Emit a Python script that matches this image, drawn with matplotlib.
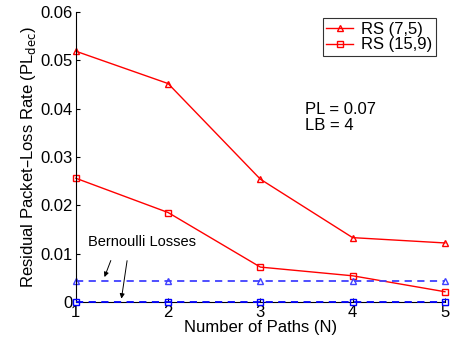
import matplotlib
matplotlib.use('Agg')
import matplotlib.pyplot as plt

plt.rcParams['font.family'] = ['Liberation Sans', 'DejaVu Sans']

paths = [1, 2, 3, 4, 5]
rs75 = [0.0519, 0.0452, 0.0254, 0.0133, 0.0122]
rs159 = [0.0256, 0.0185, 0.0072, 0.0054, 0.0021]
bern75 = [0.0043, 0.0043, 0.0043, 0.0043, 0.0043]
bern159 = [0.0, 0.0, 0.0, 0.0, 0.0]


def main():
    fig = plt.figure(figsize=(4.54, 3.45), dpi=100)
    ax = fig.add_axes([0.167, 0.125, 0.813, 0.84])

    ax.plot(paths, rs75, color='red', marker='^', markersize=5, mfc='none', lw=1, label='RS (7,5)', clip_on=False)
    ax.plot(paths, rs159, color='red', marker='s', markersize=4, mfc='none', lw=1, label='RS (15,9)', clip_on=False)
    ax.plot(paths, bern75, color='#4040ff', ls='--', dashes=(4, 3), marker='^', markersize=5, mfc='none', lw=1.3,
            clip_on=False)
    ax.plot(paths, bern159, color='blue', ls='--', dashes=(4, 3), marker='s', markersize=4, mfc='none', lw=1.3,
            clip_on=False, zorder=3)

    ax.set_xlim(1, 5)
    ax.set_ylim(0, 0.06)
    ax.set_xticks([1, 2, 3, 4, 5])
    ax.set_yticks([0, 0.01, 0.02, 0.03, 0.04, 0.05, 0.06])
    ax.set_yticklabels(['0', '0.01', '0.02', '0.03', '0.04', '0.05', '0.06'])
    ax.tick_params(labelsize=12, direction='in', length=3, pad=2)
    ax.spines['top'].set_visible(False)
    ax.spines['right'].set_visible(False)

    ax.set_xlabel('Number of Paths (N)', fontsize=12, labelpad=0)
    ax.set_ylabel('Residual Packet\u2013Loss Rate (PL$_{\\mathrm{dec}}$)', fontsize=12, labelpad=2)

    leg = ax.legend(loc='upper right', bbox_to_anchor=(0.985, 0.99), fontsize=12, fancybox=False,
                    edgecolor='black', handlelength=1.6, handletextpad=0.5, borderpad=0.2,
                    labelspacing=0.05, borderaxespad=0.2)
    leg.get_frame().set_linewidth(0.8)

    ax.text(0.622, 0.69, 'PL = 0.07\nLB = 4', transform=ax.transAxes, fontsize=12, va='top', linespacing=1.1)

    ax.text(1.13, 0.0124, 'Bernoulli Losses', fontsize=10.5, va='center')
    ax.annotate('', xy=(1.30, 0.0046), xytext=(1.39, 0.0091),
                arrowprops=dict(arrowstyle='-|>', color='black', lw=0.7, mutation_scale=7))
    ax.annotate('', xy=(1.49, 0.0001), xytext=(1.56, 0.0091),
                arrowprops=dict(arrowstyle='-|>', color='black', lw=0.7, mutation_scale=7))

    fig.savefig('out.png', dpi=100)


if __name__ == "__main__":
    main()
